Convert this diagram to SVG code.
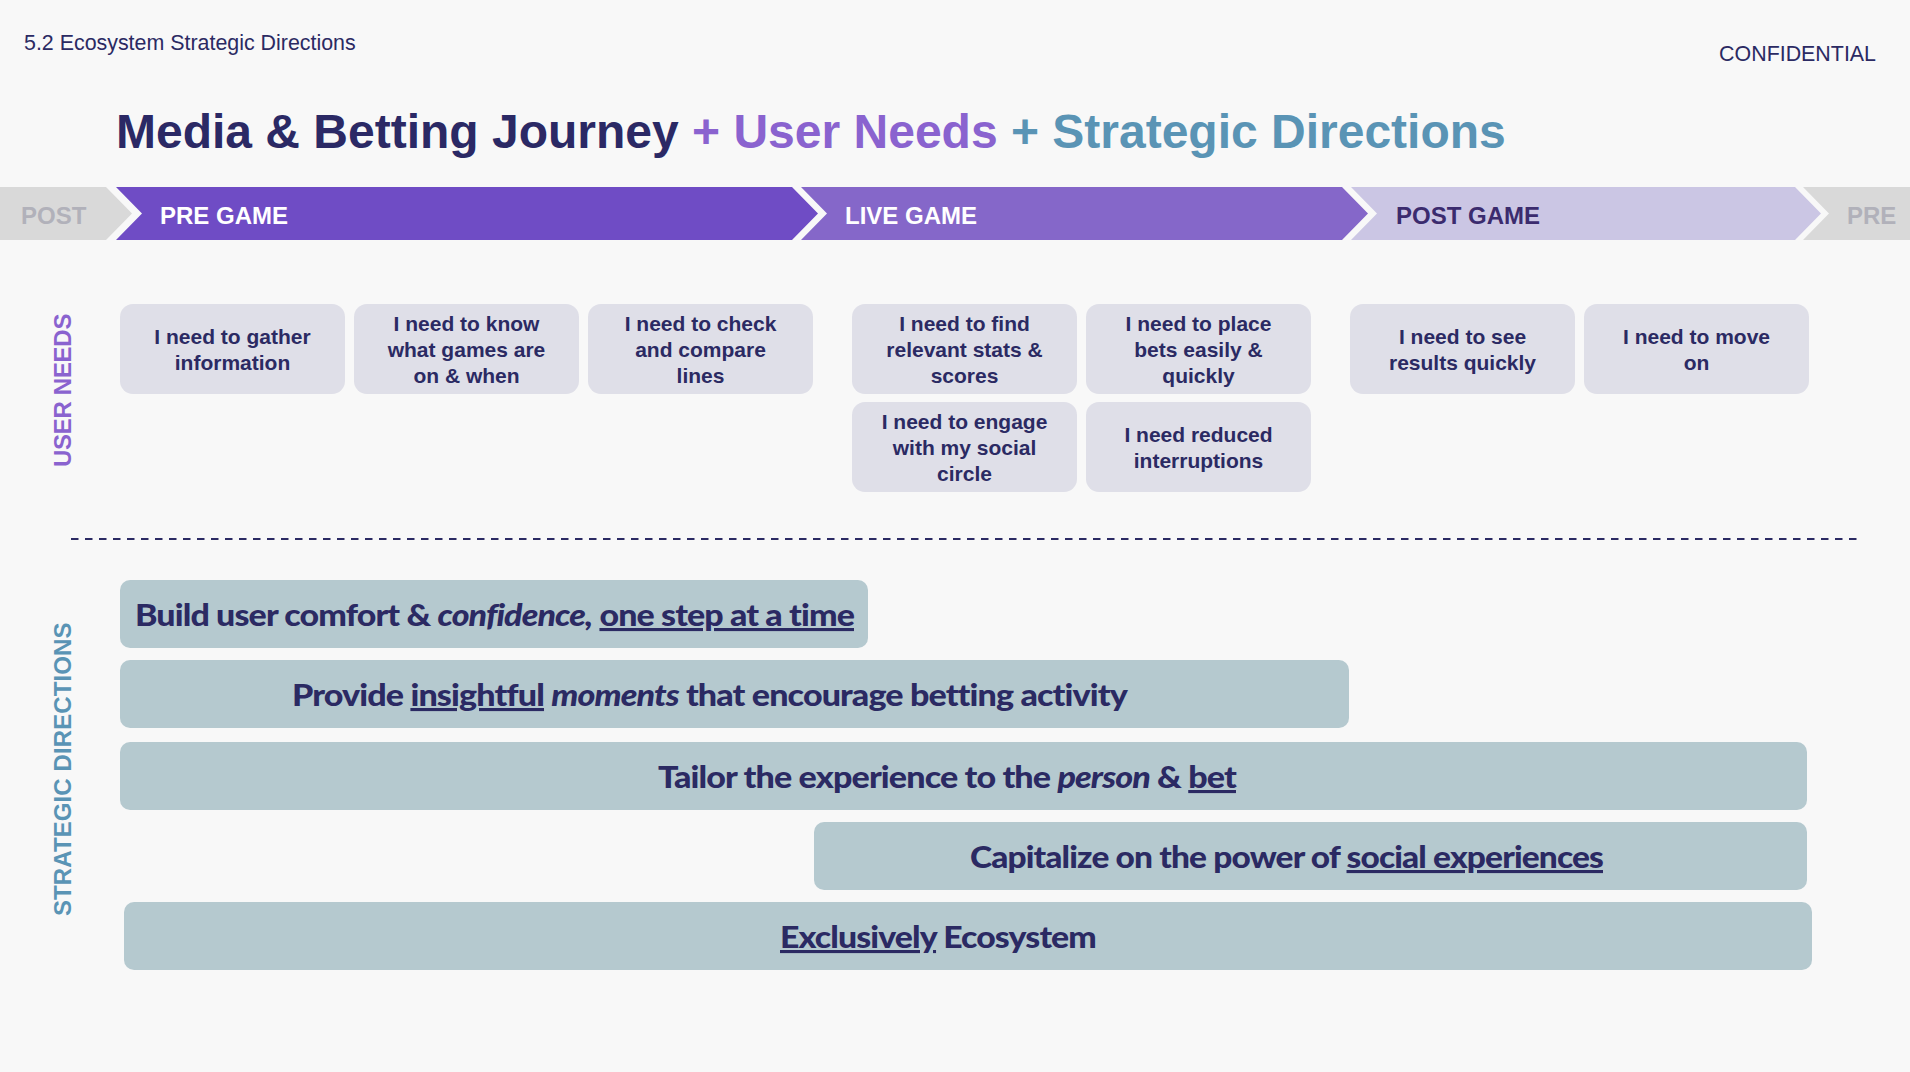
<svg xmlns="http://www.w3.org/2000/svg" width="1910" height="1072" viewBox="0 0 1910 1072">
<style>
.bg{fill:#f8f8f8}
.hdr{font-family:"Liberation Sans",Arial,sans-serif;font-size:21.4px;fill:#2b2a63}
.title{font-family:"Liberation Sans",Arial,sans-serif;font-size:48px;font-weight:bold}
.chev{font-family:"Liberation Sans",Arial,sans-serif;font-size:24px;font-weight:bold}
.side{font-family:"Liberation Sans",Arial,sans-serif;font-size:24px;font-weight:bold;letter-spacing:0.6px}
.need rect{fill:#dfdfe8}
.need text{font-family:"Liberation Sans",Arial,sans-serif;font-size:21px;font-weight:bold;fill:#2b2a63;text-anchor:middle}
.dir rect{fill:#b5c9cf}
.dir text{font-family:Lato,"Liberation Sans",sans-serif;font-size:31px;font-weight:900;fill:#2b2a63;letter-spacing:-0.8px}
.i{font-style:italic}
.u{text-decoration:underline}
</style>
<rect class="bg" x="0" y="0" width="1910" height="1072"/>
<text class="hdr" x="24" y="50">5.2 Ecosystem Strategic Directions</text>
<text class="hdr" x="1876" y="61" text-anchor="end">CONFIDENTIAL</text>
<text class="title" x="116" y="148"><tspan fill="#2b2965">Media &amp; Betting Journey </tspan><tspan fill="#8a63cf">+ User Needs </tspan><tspan fill="#5a94b5">+ Strategic Directions</tspan></text>

<g id="phases">
<g id="phase-post">
<polygon points="0,187 106,187 132,213.5 106,240 0,240" fill="#d9d9d9"/>
<text class="chev" x="21" y="224" fill="#b1b1ba">POST</text>
</g>
<g id="phase-pre-game">
<polygon points="116,187 792,187 818,213.5 792,240 116,240 142,213.5" fill="#6f4cc5"/>
<text class="chev" x="160" y="224" fill="#ffffff">PRE GAME</text>
</g>
<g id="phase-live-game">
<polygon points="801,187 1342,187 1368,213.5 1342,240 801,240 827,213.5" fill="#8567c9"/>
<text class="chev" x="845" y="224" fill="#ffffff">LIVE GAME</text>
</g>
<g id="phase-post-game">
<polygon points="1351,187 1795,187 1821,213.5 1795,240 1351,240 1377,213.5" fill="#cbc6e4"/>
<text class="chev" x="1396" y="224" fill="#3b2b6e">POST GAME</text>
</g>
<g id="phase-pre">
<polygon points="1803,187 1910,187 1910,240 1803,240 1829,213.5" fill="#d9d9d9"/>
<text class="chev" x="1847" y="224" fill="#b1b1ba">PRE</text>
</g>
</g>

<text class="side" transform="translate(71,467) rotate(-90)" fill="#8a63cf" textLength="154">USER NEEDS</text>
<text class="side" transform="translate(71,916) rotate(-90)" fill="#5a94b5" textLength="294">STRATEGIC DIRECTIONS</text>

<g id="need-gather" class="need"><rect x="120" y="304" width="225" height="90" rx="13"/><text x="232.5" y="344">I need to gather</text><text x="232.5" y="370">information</text></g>
<g id="need-know" class="need"><rect x="354" y="304" width="225" height="90" rx="13"/><text x="466.5" y="331">I need to know</text><text x="466.5" y="357">what games are</text><text x="466.5" y="383">on &amp; when</text></g>
<g id="need-check" class="need"><rect x="588" y="304" width="225" height="90" rx="13"/><text x="700.5" y="331">I need to check</text><text x="700.5" y="357">and compare</text><text x="700.5" y="383">lines</text></g>
<g id="need-find" class="need"><rect x="852" y="304" width="225" height="90" rx="13"/><text x="964.5" y="331">I need to find</text><text x="964.5" y="357">relevant stats &amp;</text><text x="964.5" y="383">scores</text></g>
<g id="need-place" class="need"><rect x="1086" y="304" width="225" height="90" rx="13"/><text x="1198.5" y="331">I need to place</text><text x="1198.5" y="357">bets easily &amp;</text><text x="1198.5" y="383">quickly</text></g>
<g id="need-see" class="need"><rect x="1350" y="304" width="225" height="90" rx="13"/><text x="1462.5" y="344">I need to see</text><text x="1462.5" y="370">results quickly</text></g>
<g id="need-move" class="need"><rect x="1584" y="304" width="225" height="90" rx="13"/><text x="1696.5" y="344">I need to move</text><text x="1696.5" y="370">on</text></g>
<g id="need-engage" class="need"><rect x="852" y="402" width="225" height="90" rx="13"/><text x="964.5" y="429">I need to engage</text><text x="964.5" y="455">with my social</text><text x="964.5" y="481">circle</text></g>
<g id="need-reduced" class="need"><rect x="1086" y="402" width="225" height="90" rx="13"/><text x="1198.5" y="442">I need reduced</text><text x="1198.5" y="468">interruptions</text></g>

<g id="connectors">
<line x1="71" y1="539" x2="1858" y2="539" stroke="#2b2a63" stroke-width="2" stroke-dasharray="7.5 6.5"/>
</g>

<g id="dir-comfort" class="dir"><rect x="120" y="580" width="748" height="68" rx="10"/><text x="135" y="626" textLength="719" lengthAdjust="spacingAndGlyphs">Build user comfort &amp; <tspan class="i">confidence,</tspan> <tspan class="u">one step at a time</tspan></text></g>
<g id="dir-insight" class="dir"><rect x="120" y="660" width="1229" height="68" rx="10"/><text x="292" y="706" textLength="835" lengthAdjust="spacingAndGlyphs">Provide <tspan class="u">insightful</tspan> <tspan class="i">moments</tspan> that encourage betting activity</text></g>
<g id="dir-tailor" class="dir"><rect x="120" y="742" width="1687" height="68" rx="10"/><text x="658" y="788" textLength="578" lengthAdjust="spacingAndGlyphs">Tailor the experience to the <tspan class="i">person</tspan> &amp; <tspan class="u">bet</tspan></text></g>
<g id="dir-social" class="dir"><rect x="814" y="822" width="993" height="68" rx="10"/><text x="970" y="868" textLength="633" lengthAdjust="spacingAndGlyphs">Capitalize on the power of <tspan class="u">social experiences</tspan></text></g>
<g id="dir-exclusive" class="dir"><rect x="124" y="902" width="1688" height="68" rx="10"/><text x="780" y="948" textLength="316" lengthAdjust="spacingAndGlyphs"><tspan class="u">Exclusively</tspan> Ecosystem</text></g>
</svg>
